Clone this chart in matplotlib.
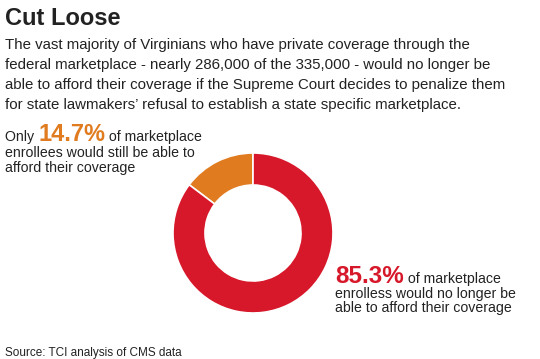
import matplotlib.pyplot as plt

plt.rcParams['font.family'] = ['Liberation Sans', 'DejaVu Sans']

# data
groups = ["Could still afford", "Could no longer afford"]
shares = [14.7, 85.3]
colors = ["#e07b1f", "#d7182a"]

title = "Cut Loose"
subtitle_lines = [
    "The vast majority of Virginians who have private coverage through the",
    "federal marketplace - nearly 286,000 of the 335,000 - would no longer be",
    "able to afford their coverage if the Supreme Court decides to penalize them",
    "for state lawmakers\u2019 refusal to establish a state specific marketplace.",
]
left_note = ["enrollees would still be able to", "afford their coverage"]
right_note = ["enrolless would no longer be", "able to afford their coverage"]
source = "Source: TCI analysis of CMS data"
dark = "#222222"

W, H = 540, 359
fig = plt.figure(figsize=(W / 100, H / 100), dpi=100)


def px(x, y):
    # pixel coords from top-left -> figure fraction
    return x / W, 1 - y / H


fig.text(*px(5, 25), title, fontsize=17, fontweight="bold", color=dark, va="baseline")
for i, line in enumerate(subtitle_lines):
    fig.text(*px(5, 49 + 20 * i), line, fontsize=10.8, color=dark, va="baseline")

# donut
cx, cy, r = 253, 233, 80
ax = fig.add_axes([(cx - r) / W, (H - cy - r) / H, 2 * r / W, 2 * r / H])
ax.pie(shares, colors=colors, startangle=90, counterclock=True,
       wedgeprops=dict(width=0.4, edgecolor="white", linewidth=1.2))
ax.set_xlim(-1, 1)
ax.set_ylim(-1, 1)
ax.set_aspect("equal")
ax.axis("off")

fig.canvas.draw()
renderer = fig.canvas.get_renderer()


def rich_line(x, y, parts):
    # parts: list of (text, size, weight, color), drawn on one baseline
    for txt, size, weight, col in parts:
        t = fig.text(*px(x, y), txt, fontsize=size, fontweight=weight,
                     color=col, va="baseline")
        x += t.get_window_extent(renderer).width


small = 10.2
rich_line(5, 141, [("Only ", small, "normal", dark),
                   (f"{shares[0]}%", 17, "bold", colors[0]),
                   (" of marketplace", small, "normal", dark)])
for i, line in enumerate(left_note):
    fig.text(*px(5, 157 + 15 * i), line, fontsize=small, color=dark, va="baseline")

rich_line(335, 283, [(f"{shares[1]}%", 17.5, "bold", colors[1]),
                     (" of marketplace", small, "normal", dark)])
for i, line in enumerate(right_note):
    fig.text(*px(335, 298 + 14 * i), line, fontsize=small, color=dark, va="baseline")

fig.text(*px(5, 356), source, fontsize=8.5, color=dark, va="baseline")

fig.savefig("out.png", dpi=100, facecolor="white")
